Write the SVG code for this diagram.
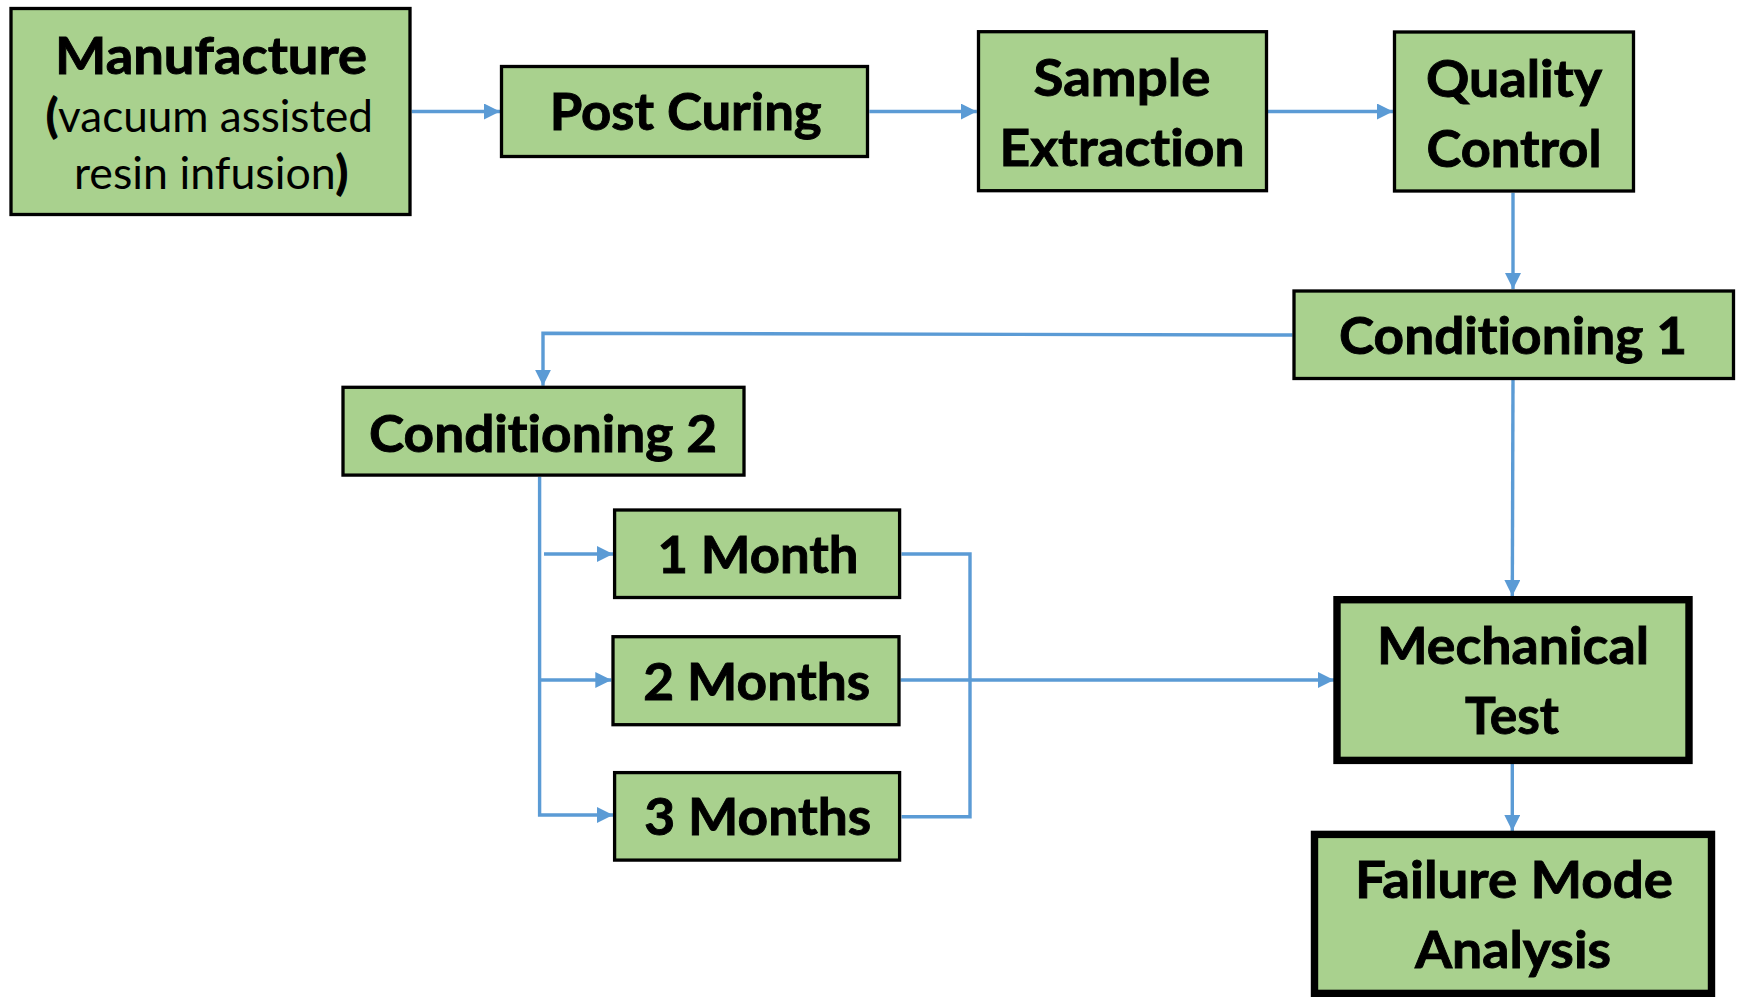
<svg xmlns="http://www.w3.org/2000/svg" width="1738" height="997" viewBox="0 0 1738 997">
<style>
.box{fill:#A9D18E;stroke:#000;stroke-width:3.3;}
.thick{fill:#A9D18E;stroke:#000;stroke-width:7.4;}
.lbl{font-family:Lato,"Open Sans","Liberation Sans",sans-serif;font-weight:bold;font-size:52px;fill:#000;stroke:#000;stroke-width:0.9;text-anchor:middle;font-variant-ligatures:none;}
.reg{font-family:Lato,"Open Sans","Liberation Sans",sans-serif;font-weight:normal;font-size:45px;fill:#000;text-anchor:middle;font-variant-ligatures:none;}
.b{font-weight:bold;stroke:#000;stroke-width:1.2;}
.con{fill:none;stroke:#5B9BD5;stroke-width:3.4;}
</style>
<defs>
<marker id="ah" markerUnits="userSpaceOnUse" markerWidth="16" markerHeight="16" viewBox="0 0 16 16" refX="16" refY="8" orient="auto">
<path d="M0 0 L16 8 L0 16 Z" fill="#5B9BD5"/>
</marker>
</defs>
<rect width="1738" height="997" fill="#fff"/>
<g id="connectors">
<path class="con" d="M411.7 111.5 H500" marker-end="url(#ah)"/>
<path class="con" d="M869.4 111.5 H976.8" marker-end="url(#ah)"/>
<path class="con" d="M1268 111.5 H1393" marker-end="url(#ah)"/>
<path class="con" d="M1513 192.7 V289" marker-end="url(#ah)"/>
<path class="con" d="M1292.6 335 L543 333.3 V385.7" marker-end="url(#ah)"/>
<path class="con" d="M1513 380 L1512.3 596" marker-end="url(#ah)"/>
<path class="con" d="M539.6 476.7 V815 H613" marker-end="url(#ah)"/>
<path class="con" d="M544 554 H613" marker-end="url(#ah)"/>
<path class="con" d="M540 680 H611.3" marker-end="url(#ah)"/>
<path class="con" d="M901.5 554 H970 V816.7 H901.6"/>
<path class="con" d="M900.6 680 H1334" marker-end="url(#ah)"/>
<path class="con" d="M1512.3 764 V831" marker-end="url(#ah)"/>
</g>
<g id="manufacture">
<rect class="box" x="11" y="8.5" width="399" height="206"/>
<text class="lbl" x="211" y="73.5" textLength="312" lengthAdjust="spacingAndGlyphs">Manufacture</text>
<text class="reg" x="209.5" y="131.5" textLength="327" lengthAdjust="spacingAndGlyphs"><tspan class="b">(</tspan>vacuum assisted</text>
<text class="reg" x="211" y="188.5" textLength="274" lengthAdjust="spacingAndGlyphs">resin infusion<tspan class="b">)</tspan></text>
</g>
<g id="post-curing">
<rect class="box" x="501.5" y="66.5" width="366" height="90"/>
<text class="lbl" x="685.7" y="130" textLength="272" lengthAdjust="spacingAndGlyphs">Post Curing</text>
</g>
<g id="sample-extraction">
<rect class="box" x="978.5" y="31.7" width="288" height="159"/>
<text class="lbl" x="1122" y="96" textLength="177" lengthAdjust="spacingAndGlyphs">Sample</text>
<text class="lbl" x="1122" y="166" textLength="245" lengthAdjust="spacingAndGlyphs">Extraction</text>
</g>
<g id="quality-control">
<rect class="box" x="1394.5" y="32" width="239" height="159"/>
<text class="lbl" x="1514" y="96.5" textLength="176" lengthAdjust="spacingAndGlyphs">Quality</text>
<text class="lbl" x="1514" y="166.5" textLength="175" lengthAdjust="spacingAndGlyphs">Control</text>
</g>
<g id="conditioning-1">
<rect class="box" x="1294" y="291" width="439.5" height="87.5"/>
<text class="lbl" x="1513" y="354" textLength="348" lengthAdjust="spacingAndGlyphs">Conditioning 1</text>
</g>
<g id="conditioning-2">
<rect class="box" x="343" y="387.3" width="401" height="87.8"/>
<text class="lbl" x="543" y="451.7" textLength="348" lengthAdjust="spacingAndGlyphs">Conditioning 2</text>
</g>
<g id="month-1">
<rect class="box" x="614.6" y="510" width="285" height="87.5"/>
<text class="lbl" x="758" y="573.3" textLength="201" lengthAdjust="spacingAndGlyphs">1 Month</text>
</g>
<g id="months-2">
<rect class="box" x="613" y="636.7" width="286" height="88"/>
<text class="lbl" x="756.7" y="700" textLength="227" lengthAdjust="spacingAndGlyphs">2 Months</text>
</g>
<g id="months-3">
<rect class="box" x="614.6" y="772.6" width="285" height="87.5"/>
<text class="lbl" x="757.7" y="835" textLength="227" lengthAdjust="spacingAndGlyphs">3 Months</text>
</g>
<g id="mechanical-test">
<rect class="thick" x="1337" y="599.7" width="352" height="160.7"/>
<text class="lbl" x="1513" y="664" textLength="272" lengthAdjust="spacingAndGlyphs">Mechanical</text>
<text class="lbl" x="1512" y="734" textLength="94" lengthAdjust="spacingAndGlyphs">Test</text>
</g>
<g id="failure-mode-analysis">
<rect class="thick" x="1314.5" y="834.4" width="397" height="159"/>
<text class="lbl" x="1514" y="898.3" textLength="318" lengthAdjust="spacingAndGlyphs">Failure Mode</text>
<text class="lbl" x="1513" y="968.3" textLength="196" lengthAdjust="spacingAndGlyphs">Analysis</text>
</g>
</svg>
